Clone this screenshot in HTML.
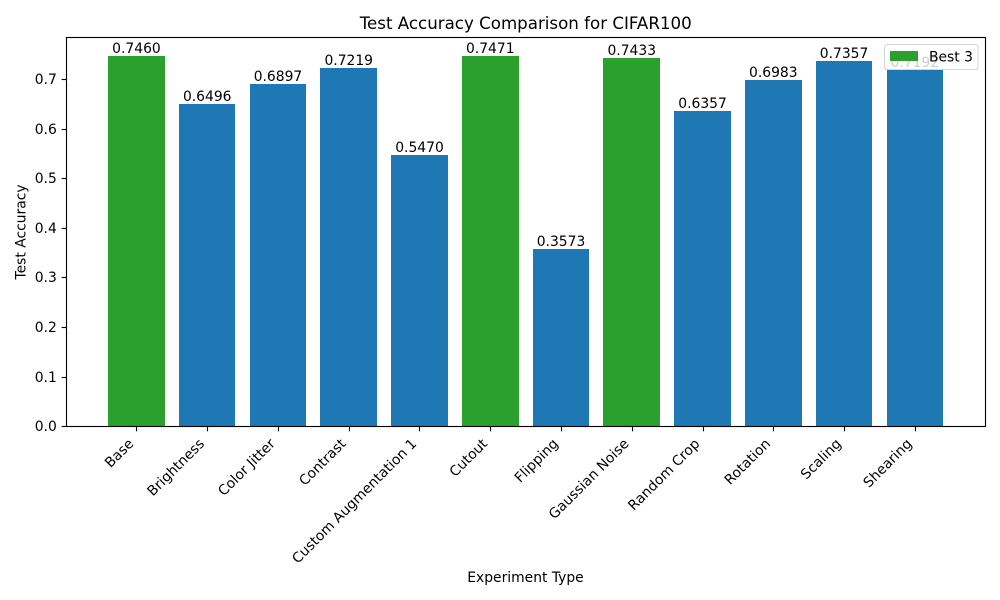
<!DOCTYPE html>
<html lang="en">
<head>
<meta charset="utf-8">
<title>Test Accuracy Comparison for CIFAR100</title>
<style>
html,body{margin:0;padding:0;background:#fff;width:1000px;height:600px;overflow:hidden}
svg{display:block}
text{font-family:"DejaVu Sans","Liberation Sans",sans-serif;fill:#000}
</style>
</head>
<body>
<svg id="chart" xmlns="http://www.w3.org/2000/svg" width="1000" height="600" viewBox="0 0 1000 600">
  <rect x="0" y="0" width="1000" height="600" fill="#ffffff"/>
  <g id="bars"></g>
  <g id="values"></g>
  <g id="xticks"></g>
  <g id="yticks"></g>
  <rect x="66.5" y="37.5" width="919" height="389" fill="none" stroke="#000" stroke-width="1.11"/>
  <text x="525.7" y="29" font-size="16.67" text-anchor="middle">Test Accuracy Comparison for CIFAR100</text>
  <text x="525.5" y="582" font-size="13.89" text-anchor="middle">Experiment Type</text>
  <text transform="translate(25.5,232) rotate(-90)" font-size="13.89" text-anchor="middle">Test Accuracy</text>
  <g>
    <rect x="884.5" y="44.5" width="93.5" height="25" rx="2.8" ry="2.8" fill="#ffffff" fill-opacity="0.8" stroke="#cccccc" stroke-opacity="0.8" stroke-width="1.11"/>
    <rect x="890" y="51" width="28" height="10" fill="#2ca02c"/>
    <text x="929" y="61.5" font-size="13.89">Best 3</text>
  </g>
</svg>
<script>
const categories = ["Base","Brightness","Color Jitter","Contrast","Custom Augmentation 1","Cutout","Flipping","Gaussian Noise","Random Crop","Rotation","Scaling","Shearing"];
const accuracyValues = [0.7460,0.6496,0.6897,0.7219,0.5470,0.7471,0.3573,0.7433,0.6357,0.6983,0.7357,0.7192];
const yTickValues = [0,0.1,0.2,0.3,0.4,0.5,0.6,0.7];

const NS = 'http://www.w3.org/2000/svg';
const plotLeft = 66.41, plotRight = 984.87, plotTop = 37.7, plotBottom = 426.7;
const barWidth = 0.8;
const yMax = Math.max.apply(null, accuracyValues) * 1.05;
const xMin = -barWidth / 2 - 0.05 * (categories.length - 1 + barWidth);
const xMax = categories.length - 1 + barWidth / 2 + 0.05 * (categories.length - 1 + barWidth);

function xScale(v) { return plotLeft + (v - xMin) / (xMax - xMin) * (plotRight - plotLeft); }
function yScale(v) { return plotBottom - v / yMax * (plotBottom - plotTop); }
function make(tag, attrs) {
  const el = document.createElementNS(NS, tag);
  Object.keys(attrs).forEach(function (k) { el.setAttribute(k, attrs[k]); });
  return el;
}

const best = accuracyValues.slice().sort(function (a, b) { return b - a; }).slice(0, 3);
const barsG = document.getElementById('bars');
const valuesG = document.getElementById('values');
const xG = document.getElementById('xticks');
const yG = document.getElementById('yticks');

categories.forEach(function (name, i) {
  const v = accuracyValues[i];
  const x0 = Math.round(xScale(i - barWidth / 2));
  const x1 = Math.round(xScale(i + barWidth / 2) - 0.04);
  const top = Math.floor(yScale(v));
  const slug = name.toLowerCase().replace(/\s+/g, '-');

  const bar = make('rect', { x: x0, y: top, width: x1 - x0, height: 426 - top, fill: best.indexOf(v) >= 0 ? '#2ca02c' : '#1f77b4' });
  
  
  barsG.appendChild(bar);

  const label = make('text', { x: xScale(i), y: top - 3, 'font-size': 13.89, 'text-anchor': 'middle' });
  label.textContent = v.toFixed(4);
  
  
  valuesG.appendChild(label);

  const tx = Math.round(xScale(i) - 0.03) + 0.5;
  const tick = make('line', { x1: tx, x2: tx, y1: 426.5, y2: 426.5 + 4.86, stroke: '#000', 'stroke-width': 1.11 });
  
  
  xG.appendChild(tick);

  const tl = make('text', { transform: 'translate(' + (xScale(i) - 2.1) + ',444.5) rotate(-45)', 'font-size': 13.89, 'text-anchor': 'end' });
  tl.textContent = name;
  
  
  xG.appendChild(tl);
});

yTickValues.forEach(function (v) {
  const row = Math.floor(yScale(v));
  const tick = make('line', { x1: 66.5 - 4.86, x2: 66.5, y1: row + 0.5, y2: row + 0.5, stroke: '#000', 'stroke-width': 1.11 });
  
  
  yG.appendChild(tick);

  const tl = make('text', { x: 56.8, y: row + 5, 'font-size': 13.89, 'text-anchor': 'end' });
  tl.textContent = v.toFixed(1);
  
  
  yG.appendChild(tl);
});
</script>
</body>
</html>
